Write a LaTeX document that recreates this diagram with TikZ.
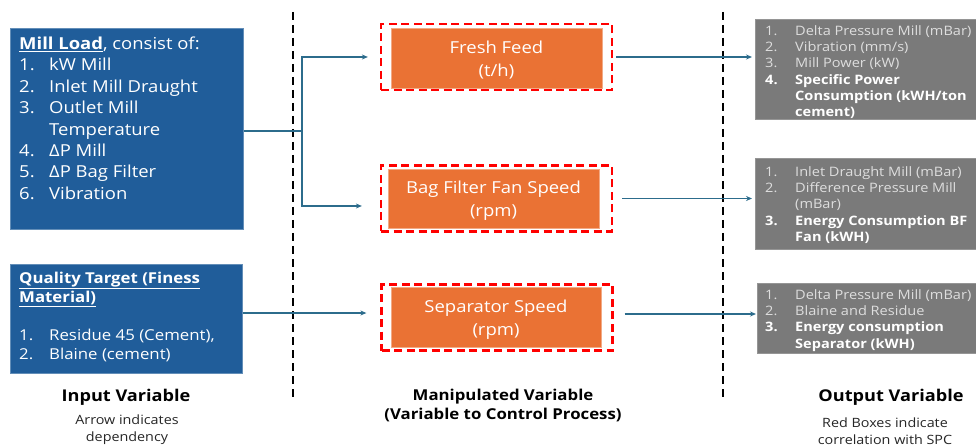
\documentclass[tikz,border=0pt]{standalone}
\usepackage{fontspec}
\setmainfont[FakeStretch=1.12]{Open Sans}
\usetikzlibrary{arrows.meta,calc}
\definecolor{boxblue}{RGB}{32,93,154}
\definecolor{boxorange}{RGB}{234,114,52}
\definecolor{boxgrey}{RGB}{122,122,122}
\definecolor{greytext}{RGB}{222,222,222}
\definecolor{connblue}{RGB}{44,108,140}
\definecolor{dashred}{RGB}{255,0,0}
\newcommand{\hiw}[1]{\textcolor{white}{\bfseries #1}}
\begin{document}
\begin{tikzpicture}[x=1pt,y=-1pt,
  bluebox/.style={draw=boxblue!70!white, line width=0.6pt, fill=boxblue, anchor=north west, inner sep=0pt},
  greybox/.style={draw=boxgrey!80!white, line width=0.6pt, fill=boxgrey, anchor=north west, inner sep=0pt},
  orangebox/.style={fill=boxorange, draw=boxorange!60!white, line width=0.6pt, inner sep=0pt},
  orangetext/.style={text=white, align=center, inner sep=0pt, font=\fontsize{16.5}{23}\selectfont},
  redframe/.style={draw=dashred, line width=2.3pt, dash pattern=on 8pt off 4.5pt, minimum width=231pt, minimum height=66pt, inner sep=0pt},
  bluetext/.style={text=white, inner sep=0pt, anchor=base west, font=\fontsize{16.5}{21.4}\selectfont},
  greylist/.style={text=greytext, inner sep=0pt, anchor=base west, font=\fontsize{13}{16.2}\selectfont},
  conn/.style={draw=connblue, line width=1.3pt},
  arr/.style={conn, -{Stealth[length=6pt,width=5pt]}},
  sepline/.style={draw=black, line width=2pt, dash pattern=on 8pt off 5pt},
  heading/.style={inner sep=0pt, align=center, font=\bfseries\fontsize{16.2}{19}\selectfont},
  midheading/.style={inner sep=0pt, align=center, font=\bfseries\fontsize{15}{19}\selectfont},
  caption/.style={inner sep=0pt, align=center, text=black!85, font=\fontsize{12.8}{17}\selectfont}]
\useasboundingbox (0,0) rectangle (976,446);
\fill[white] (0,0) rectangle (976,446);

% separator lines
\coordinate (l1top) at (293,12);
\coordinate (l1bot) at (293,399);
\coordinate (l2top) at (723,12);
\coordinate (l2bot) at (723,400);
\draw[sepline] (l1top) -- (l1bot);
\draw[sepline] (l2top) -- (l2bot);

% input boxes
\node[bluebox, minimum width=233pt, minimum height=201pt] (mill) at (10,28) {};
\node[bluetext] (millText) at (19,49.5) {\begin{tabular}[t]{@{}p{30pt}@{}l@{}}
\multicolumn{2}{@{}l@{}}{\underline{\textbf{Mill Load}}, consist of:}\\
1. & kW Mill\\
2. & Inlet Mill Draught\\
3. & Outlet Mill\\
 & Temperature\\
4. & ΔP Mill\\
5. & ΔP Bag Filter\\
6. & Vibration
\end{tabular}};

\node[bluebox, minimum width=232pt, minimum height=109pt] (qual) at (10,264) {};
\node[bluetext, font=\fontsize{15}{19}\selectfont] (qualText) at (19,283) {\begin{tabular}[t]{@{}p{30pt}@{}l@{}}
\multicolumn{2}{@{}l@{}}{\underline{\textbf{Quality Target (Finess}}}\\
\multicolumn{2}{@{}l@{}}{\underline{\textbf{Material)}}}\\
 & \\
1. & Residue 45 (Cement),\\
2. & Blaine (cement)
\end{tabular}};

% manipulated variables
\node[redframe] (ffFrame) at (496.5,57) {};
\node[orangebox, minimum width=211pt, minimum height=60pt] (ff) at (496.5,58) {};
\node[orangetext] (ffText) at ($(ff.center)+(0,2)$) {Fresh Feed\\(t/h)};
\node[redframe] (bfFrame) at (496.5,198.5) {};
\node[orangebox, minimum width=211pt, minimum height=59pt] (bf) at (493.5,198.5) {};
\node[orangetext] (bfText) at ($(bf.center)+(0,2.5)$) {Bag Filter Fan Speed\\(rpm)};
\node[redframe] (sepFrame) at (497,317.5) {};
\node[orangebox, minimum width=210pt, minimum height=60pt] (sep) at (496,317) {};
\node[orangetext] (sepText) at ($(sep.center)+(0,2.5)$) {Separator Speed\\(rpm)};

% output boxes
\node[greybox, minimum width=221pt, minimum height=100pt] (out1) at (755,19) {};
\node[greylist] (out1Text) at (765,35.5) {\begin{tabular}[t]{@{}p{30pt}@{}l@{}}
1. & Delta Pressure Mill (mBar)\\
2. & Vibration (mm/s)\\
3. & Mill Power (kW)\\
\hiw{4.} & \hiw{Specific Power}\\
 & \hiw{Consumption (kWH/ton}\\
 & \hiw{cement)}
\end{tabular}};

\node[greybox, minimum width=221pt, minimum height=91pt] (out2) at (755,158) {};
\node[greylist] (out2Text) at (765,176.5) {\begin{tabular}[t]{@{}p{30pt}@{}l@{}}
1. & Inlet Draught Mill (mBar)\\
2. & Difference Pressure Mill\\
 & (mBar)\\
\hiw{3.} & \hiw{Energy Consumption BF}\\
 & \hiw{Fan (kWH)}
\end{tabular}};

\node[greybox, minimum width=219pt, minimum height=70pt] (out3) at (757,283) {};
\node[greylist] (out3Text) at (765,299.5) {\begin{tabular}[t]{@{}p{30pt}@{}l@{}}
1. & Delta Pressure Mill (mBar)\\
2. & Blaine and Residue\\
\hiw{3.} & \hiw{Energy consumption}\\
 & \hiw{Separator (kWH)}
\end{tabular}};

% connectors
\coordinate (split) at (302,131);
\coordinate (ffIn) at ([xshift=-12pt]ffFrame.west);
\coordinate (bfIn) at ([xshift=-18pt,yshift=-7.5pt]bfFrame.west);
\coordinate (sepIn) at ([xshift=-14pt,yshift=4.5pt]sepFrame.west);
\draw[conn] (mill.east |- split) -- (split);
\draw[arr] (split) |- (ffIn);
\draw[arr] (split) |- (bfIn);
\draw[arr] (qual.east |- sepIn) -- (sepIn);

\coordinate (ffOut) at ([xshift=3pt]ffFrame.east);
\coordinate (bfOut) at ([xshift=9pt]bfFrame.east);
\coordinate (sepOut) at ([xshift=11pt,yshift=3.5pt]sepFrame.east);
\draw[arr] (ffOut) -- ([xshift=-3pt]out1.west |- ffOut);
\draw[arr] (bfOut) -- ([xshift=-3pt]out2.west |- bfOut);
\draw[arr] (sepOut) -- ([xshift=-1pt]out3.west |- sepOut);

% bottom labels
\node[heading] (inLabel) at (126,397) {Input Variable};
\node[caption] (inCap) at (127,429.5) {Arrow indicates\\dependency};
\node[midheading] (manLabel) at (503,405.5) {Manipulated Variable\\(Variable to Control Process)};
\node[heading] (outLabel) at (891,397) {Output Variable};
\node[caption] (outCap) at (885,431) {Red Boxes indicate\\correlation with SPC};
\end{tikzpicture}
\end{document}
